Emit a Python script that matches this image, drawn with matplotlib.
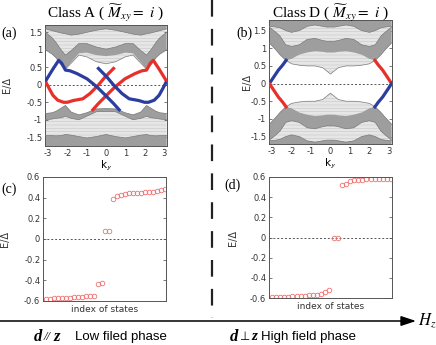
import matplotlib
matplotlib.use("Agg")
import matplotlib.pyplot as plt

plt.rcParams.update({"font.family": "DejaVu Sans", "mathtext.fontset": "stix",
                     "axes.unicode_minus": False, "hatch.linewidth": 0.35})
W, H = 436, 345
SERIF = "Liberation Serif"
RED, BLUE = "#e8302a", "#2b3d9e"
DENSE, SPARSE, HLINE = "#9e9e9e", "#e6e6e6", "#c2c2c2"

# ---- panel (a): class A band structure ----
Ka = [-3.14, -2.8, -2.6, -2.3, -2.1, -1.8, -1.4, -1.0, -0.5, 0.0,
      0.5, 1.0, 1.4, 1.8, 2.1, 2.3, 2.6, 2.8, 3.14]
a_up_edge = [1.00, 0.88, 0.78, 0.55, 0.45, 0.62, 0.85, 0.80, 0.66, 0.60,
             0.66, 0.80, 0.85, 0.62, 0.45, 0.55, 0.78, 0.88, 1.00]
a_up_dlo = [1.00, 0.88, 0.78, 0.55, 0.45, 0.65, 0.90, 0.92, 0.85, 0.82,
            0.85, 0.92, 0.90, 0.65, 0.45, 0.55, 0.78, 0.88, 1.00]
a_up_dhi = [1.50, 1.35, 1.22, 0.98, 0.85, 0.98, 1.18, 1.18, 1.08, 1.02,
            1.08, 1.18, 1.18, 0.98, 0.85, 0.98, 1.22, 1.35, 1.50]
a_top_lo = [1.60, 1.55, 1.52, 1.48, 1.46, 1.42, 1.45, 1.50, 1.56, 1.60,
            1.56, 1.50, 1.45, 1.42, 1.46, 1.48, 1.52, 1.55, 1.60]
a_dn_edge = [-0.82, -0.80, -0.76, -0.66, -0.59, -0.78, -0.86, -0.80, -0.69, -0.68,
             -0.69, -0.80, -0.86, -0.78, -0.59, -0.66, -0.76, -0.80, -0.82]
a_dn_dlo = [-1.00, -0.98, -0.96, -0.94, -0.90, -0.96, -1.00, -0.90, -0.77, -0.76,
            -0.77, -0.90, -1.00, -0.96, -0.90, -0.94, -0.96, -0.98, -1.00]
a_bot_hi = [-1.45, -1.45, -1.46, -1.45, -1.42, -1.44, -1.48, -1.52, -1.48, -1.42,
            -1.48, -1.52, -1.48, -1.44, -1.42, -1.45, -1.46, -1.45, -1.45]
# chiral edge states (a)
red1_k = [-3.14, -2.95, -2.75, -2.5, -2.2, -2.0, -1.7, -1.2, -0.83, -0.4, -0.05, 0.29, 0.45]
red1_E = [0.10, -0.10, -0.30, -0.44, -0.50, -0.50, -0.45, -0.40, -0.25, -0.01, 0.22, 0.41, 0.50]
red2_k = [-0.74, -0.4, 0.03, 0.47, 0.98, 1.5, 1.86, 2.1, 2.3, 2.45, 2.75, 3.14]
red2_E = [-0.75, -0.54, -0.30, -0.06, 0.17, 0.32, 0.40, 0.42, 0.62, 0.70, 0.45, 0.10]
blue1_k = [3.14, 2.95, 2.75, 2.5, 2.2, 2.0, 1.7, 1.2, 0.83, 0.4, 0.05, -0.29, -0.45]
blue1_E = red1_E
blue2_k = [0.74, 0.4, -0.03, -0.47, -0.98, -1.5, -1.86, -2.1, -2.3, -2.45, -2.75, -3.14]
blue2_E = red2_E

# ---- panel (b): class D band structure ----
Kb = [-3.14, -2.8, -2.6, -2.3, -2.0, -1.6, -1.2, -0.8, -0.4, -0.2, 0.0,
      0.2, 0.4, 0.8, 1.2, 1.6, 2.0, 2.3, 2.6, 2.8, 3.14]
b_up_edge = [1.15, 0.95, 0.82, 0.66, 0.56, 0.52, 0.50, 0.50, 0.45, 0.36, 0.27,
             0.36, 0.45, 0.50, 0.50, 0.52, 0.56, 0.66, 0.82, 0.95, 1.15]
b_up_dlo = [1.15, 0.95, 0.82, 0.66, 0.70, 0.82, 0.88, 0.92, 0.90, 0.88, 0.88,
            0.88, 0.90, 0.92, 0.88, 0.82, 0.70, 0.66, 0.82, 0.95, 1.15]
b_up_dhi = [1.60, 1.45, 1.35, 1.10, 1.05, 1.10, 1.25, 1.28, 1.22, 1.20, 1.20,
            1.20, 1.22, 1.28, 1.25, 1.10, 1.05, 1.10, 1.35, 1.45, 1.60]
b_top_lo = [1.62, 1.60, 1.58, 1.50, 1.45, 1.50, 1.62, 1.66, 1.62, 1.60, 1.60,
            1.60, 1.62, 1.66, 1.62, 1.50, 1.45, 1.50, 1.58, 1.60, 1.62]
b_dn_edge = [-1.15, -0.95, -0.82, -0.66, -0.56, -0.52, -0.50, -0.50, -0.45, -0.36, -0.27,
             -0.36, -0.45, -0.50, -0.50, -0.52, -0.56, -0.66, -0.82, -0.95, -1.15]
b_dn_dlo = [-1.15, -0.95, -0.82, -0.66, -0.70, -0.82, -0.88, -0.92, -0.90, -0.88, -0.88,
            -0.88, -0.90, -0.92, -0.88, -0.82, -0.70, -0.66, -0.82, -0.95, -1.15]
b_dn_dhi = [-1.60, -1.45, -1.35, -1.10, -1.05, -1.10, -1.25, -1.28, -1.22, -1.20, -1.20,
            -1.20, -1.22, -1.28, -1.25, -1.10, -1.05, -1.10, -1.35, -1.45, -1.60]
b_bot_hi = [-1.62, -1.60, -1.58, -1.50, -1.45, -1.50, -1.62, -1.66, -1.62, -1.60, -1.60,
            -1.60, -1.62, -1.66, -1.62, -1.50, -1.45, -1.50, -1.58, -1.60, -1.62]
edgeL_k = [-3.14, -2.9, -2.68, -2.45, -2.28]
edgeR_k = [3.14, 2.9, 2.68, 2.45, 2.28]
edge_up = [0.0, 0.20, 0.38, 0.53, 0.66]
edge_dn = [0.0, -0.20, -0.38, -0.53, -0.66]

# ---- panels (c), (d): spectra vs index of states ----
c_E = [-0.58, -0.578, -0.575, -0.572, -0.57, -0.57, -0.568, -0.566, -0.564, -0.56,
       -0.556, -0.553, -0.55, -0.435, -0.425, 0.075, 0.075,
       0.39, 0.42, 0.43, 0.44, 0.442, 0.445, 0.447, 0.45, 0.452, 0.455,
       0.458, 0.462, 0.47, 0.48]
d_E = [-0.595, -0.593, -0.59, -0.588, -0.586, -0.585, -0.583, -0.58, -0.578, -0.575,
       -0.572, -0.567, -0.557, -0.544, -0.524, 0.0, 0.0,
       0.52, 0.535, 0.56, 0.57, 0.572, 0.575, 0.577, 0.578, 0.58, 0.58,
       0.582, 0.583, 0.584]

fig = plt.figure(figsize=(W / 100, H / 100), dpi=100)


def px_axes(l, t, r, b):
    return fig.add_axes([l / W, 1 - b / H, (r - l) / W, (b - t) / H])


def style(ax, yt, ylab_x):
    ax.set_yticks(yt, [f"{v:g}" for v in yt])
    ax.tick_params(direction="in", length=2, width=0.5, labelsize=6, pad=2,
                   right=True, top=True, colors="#444", labelcolor="#333")
    for s in ax.spines.values():
        s.set_color("#555"); s.set_linewidth(0.7)
    ax.set_ylabel("E/Δ", fontsize=7, color="#333")
    ax.yaxis.set_label_coords(ylab_x, 0.5)


def bands(ax, k, edge, dlo, dhi, outer, lim):
    ax.fill_between(k, edge, lim, facecolor=SPARSE, edgecolor=HLINE,
                    hatch="-----", linewidth=0, zorder=1)
    ax.fill_between(k, dlo, dhi, facecolor=DENSE, linewidth=0, zorder=2)
    ax.fill_between(k, outer, lim, facecolor=DENSE, linewidth=0, zorder=2)
    for y in (edge, dhi, outer):
        ax.plot(k, y, c="#7a7a7a", lw=0.5, zorder=3)


# (a)
ax = px_axes(45, 25, 167, 146)
bands(ax, Ka, a_up_edge, a_up_dlo, a_up_dhi, a_top_lo, 1.8)
bands(ax, Ka, a_dn_edge, a_dn_edge, a_dn_dlo, a_bot_hi, -1.8)
ax.axhline(0, ls=(0, (2, 2)), c="#555", lw=0.7, zorder=4)
for k, E, c in [(red1_k, red1_E, RED), (red2_k, red2_E, RED),
                (blue1_k, blue1_E, BLUE), (blue2_k, blue2_E, BLUE)]:
    ax.plot(k, E, c=c, lw=2.3, zorder=5, solid_capstyle="butt")
ax.set_xlim(-3.16, 3.16); ax.set_ylim(-1.75, 1.71)
ax.set_xticks(range(-3, 4), [str(v) for v in range(-3, 4)])
style(ax, [-1.5, -1, -0.5, 0, 0.5, 1, 1.5], -0.27)
ax.set_xlabel("k$_\\mathsf{y}$", fontsize=7.5, labelpad=1)

# (b)
ax = px_axes(269, 20, 392, 144)
bands(ax, Kb, b_up_edge, b_up_dlo, b_up_dhi, b_top_lo, 1.85)
bands(ax, Kb, b_dn_edge, b_dn_dlo, b_dn_dhi, b_bot_hi, -1.85)
ax.axhline(0, ls=(0, (2, 2)), c="#555", lw=0.7, zorder=4)
ax.plot(edgeL_k, edge_up, c=BLUE, lw=2.3, zorder=5)
ax.plot(edgeL_k, edge_dn, c=RED, lw=2.3, zorder=5)
ax.plot(edgeR_k, edge_up, c=RED, lw=2.3, zorder=5)
ax.plot(edgeR_k, edge_dn, c=BLUE, lw=2.3, zorder=5)
ax.set_xlim(-3.16, 3.16); ax.set_ylim(-1.71, 1.8)
ax.set_xticks(range(-3, 4), [str(v) for v in range(-3, 4)])
style(ax, [-1.5, -1, -0.5, 0, 0.5, 1, 1.5], -0.14)
ax.set_xlabel("k$_\\mathsf{y}$", fontsize=7.5, labelpad=1)

# (c), (d)
for box, E, lx in [((43, 177, 166, 301), c_E, -0.27), ((269, 177, 392, 298), d_E, -0.25)]:
    ax = px_axes(*box)
    ax.axhline(0, ls=(0, (2, 2)), c="#555", lw=0.7)
    ax.plot(range(len(E)), E, "o", mfc="none", mec="#f07070", ms=3.3, mew=0.6)
    ax.set_xlim(-0.7, len(E) - 0.8); ax.set_ylim(-0.6, 0.6)
    ax.set_xticks([])
    style(ax, [-0.6, -0.4, -0.2, 0, 0.2, 0.4, 0.6], lx)
    ax.set_xlabel("index of states", fontsize=6.5, labelpad=3, color="#333")

# overlay: titles, labels, separator, field arrow
ov = fig.add_axes([0, 0, 1, 1]); ov.set_xlim(0, W); ov.set_ylim(H, 0); ov.axis("off")
ov.text(105, 13, r"Class A ( $\widetilde{M}_{xy}=\ i$ )", family=SERIF, fontsize=11,
        ha="center", va="center")
ov.text(330, 13, r"Class D ( $\widetilde{M}_{xy}=\ i$ )", family=SERIF, fontsize=11,
        ha="center", va="center")
for x, y, s in [(9, 33, "(a)"), (244, 33, "(b)"), (9, 189, "(c)"), (232, 185, "(d)")]:
    ov.text(x, y, s, family=SERIF, fontsize=10, ha="center", va="center")
ov.plot([212, 212], [0, 318], c="#222", lw=1.6, ls=(0, (7.5, 5.5)))
ov.annotate("", xy=(416, 321), xytext=(0, 321),
            arrowprops=dict(arrowstyle="-|>,head_length=0.9,head_width=0.3",
                            lw=1.1, color="black", shrinkA=0, shrinkB=0))
ov.text(418, 321, "$H_z$", fontsize=12, ha="left", va="center")
ov.text(34, 337, "d", family=SERIF, style="italic", weight="bold", fontsize=12, va="center")
ov.text(44, 337, "//", family=SERIF, style="italic", fontsize=9, va="center")
ov.text(53, 337, "z", family=SERIF, style="italic", weight="bold", fontsize=12, va="center")
ov.text(75, 337, "Low filed phase", family="Liberation Sans", fontsize=9.5, va="center")
ov.text(230, 337, "d", family=SERIF, style="italic", weight="bold", fontsize=12, va="center")
ov.text(240, 337, "⊥", family="DejaVu Sans", fontsize=8.5, va="center")
ov.text(251, 337, "z", family=SERIF, style="italic", weight="bold", fontsize=11, va="center")
ov.text(261, 337, "High field phase", family="Liberation Sans", fontsize=9.5, va="center")

fig.savefig("out.png", dpi=100)
